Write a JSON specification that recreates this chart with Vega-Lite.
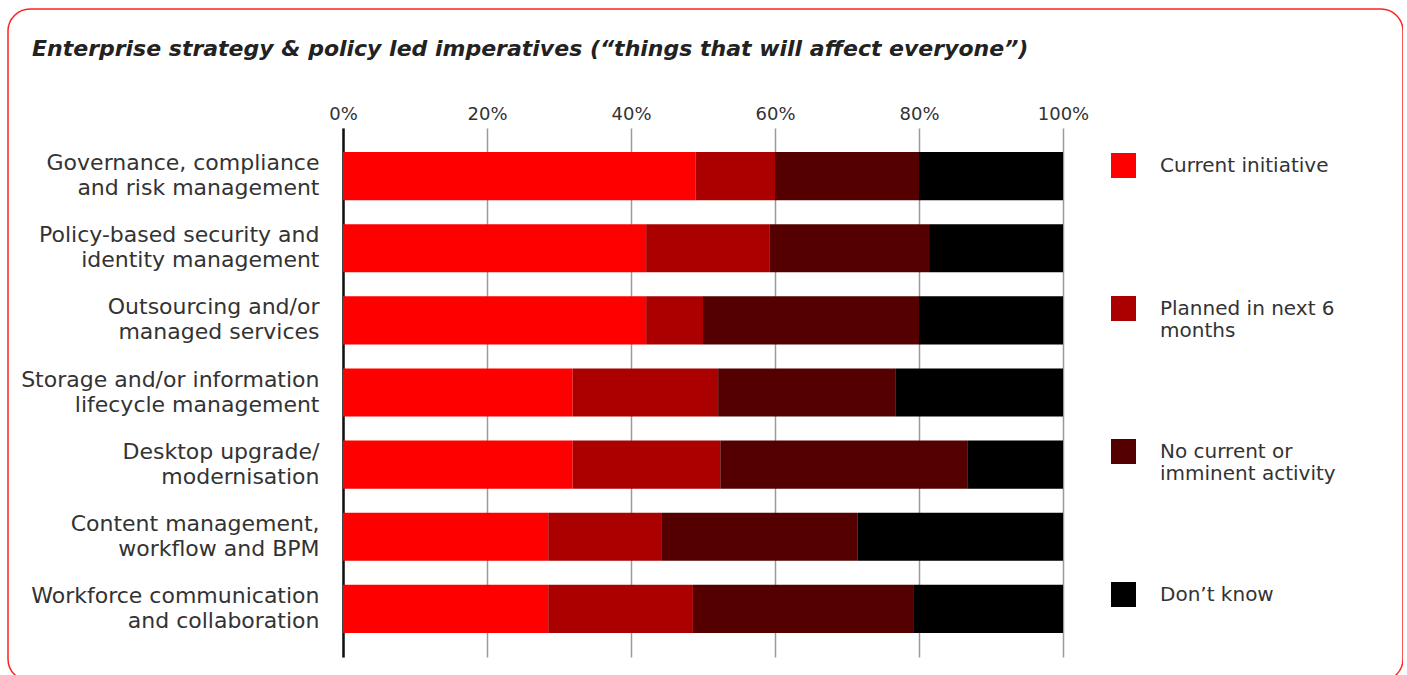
{
  "$schema": "https://vega.github.io/schema/vega-lite/v6.json",
  "width": 1395,
  "height": 672,
  "autosize": "none",
  "padding": {"left": 8, "top": 9, "right": 0, "bottom": 0},
  "background": "white",
  "title": {
    "text": "Enterprise strategy & policy led imperatives (“things that will affect everyone”)",
    "anchor": "start",
    "frame": "group",
    "orient": "top",
    "offset": -52,
    "dx": 24,
    "font": "DejaVu Sans",
    "fontSize": 22,
    "fontWeight": "bold",
    "fontStyle": "italic",
    "color": "#222222"
  },
  "config": {
    "view": {"stroke": "#ff2020", "strokeWidth": 1.5, "cornerRadius": 22, "fill": "white"}
  },
  "data": {
    "values": [
      {"item": "Governance, compliance\nand risk management", "status": "Current initiative", "seq": 1, "pct": 49},
      {"item": "Governance, compliance\nand risk management", "status": "Planned in next 6 months", "seq": 2, "pct": 11},
      {"item": "Governance, compliance\nand risk management", "status": "No current or imminent activity", "seq": 3, "pct": 20},
      {"item": "Governance, compliance\nand risk management", "status": "Don't know", "seq": 4, "pct": 20},
      {"item": "Policy-based security and\nidentity management", "status": "Current initiative", "seq": 1, "pct": 42.1},
      {"item": "Policy-based security and\nidentity management", "status": "Planned in next 6 months", "seq": 2, "pct": 17.1},
      {"item": "Policy-based security and\nidentity management", "status": "No current or imminent activity", "seq": 3, "pct": 22.2},
      {"item": "Policy-based security and\nidentity management", "status": "Don't know", "seq": 4, "pct": 18.6},
      {"item": "Outsourcing and/or\nmanaged services", "status": "Current initiative", "seq": 1, "pct": 42.1},
      {"item": "Outsourcing and/or\nmanaged services", "status": "Planned in next 6 months", "seq": 2, "pct": 7.9},
      {"item": "Outsourcing and/or\nmanaged services", "status": "No current or imminent activity", "seq": 3, "pct": 30},
      {"item": "Outsourcing and/or\nmanaged services", "status": "Don't know", "seq": 4, "pct": 20},
      {"item": "Storage and/or information\nlifecycle management", "status": "Current initiative", "seq": 1, "pct": 31.9},
      {"item": "Storage and/or information\nlifecycle management", "status": "Planned in next 6 months", "seq": 2, "pct": 20.2},
      {"item": "Storage and/or information\nlifecycle management", "status": "No current or imminent activity", "seq": 3, "pct": 24.6},
      {"item": "Storage and/or information\nlifecycle management", "status": "Don't know", "seq": 4, "pct": 23.3},
      {"item": "Desktop upgrade/\nmodernisation", "status": "Current initiative", "seq": 1, "pct": 31.9},
      {"item": "Desktop upgrade/\nmodernisation", "status": "Planned in next 6 months", "seq": 2, "pct": 20.5},
      {"item": "Desktop upgrade/\nmodernisation", "status": "No current or imminent activity", "seq": 3, "pct": 34.3},
      {"item": "Desktop upgrade/\nmodernisation", "status": "Don't know", "seq": 4, "pct": 13.3},
      {"item": "Content management,\nworkflow and BPM", "status": "Current initiative", "seq": 1, "pct": 28.5},
      {"item": "Content management,\nworkflow and BPM", "status": "Planned in next 6 months", "seq": 2, "pct": 15.8},
      {"item": "Content management,\nworkflow and BPM", "status": "No current or imminent activity", "seq": 3, "pct": 27.2},
      {"item": "Content management,\nworkflow and BPM", "status": "Don't know", "seq": 4, "pct": 28.5},
      {"item": "Workforce communication\nand collaboration", "status": "Current initiative", "seq": 1, "pct": 28.5},
      {"item": "Workforce communication\nand collaboration", "status": "Planned in next 6 months", "seq": 2, "pct": 20.1},
      {"item": "Workforce communication\nand collaboration", "status": "No current or imminent activity", "seq": 3, "pct": 30.7},
      {"item": "Workforce communication\nand collaboration", "status": "Don't know", "seq": 4, "pct": 20.7}
    ]
  },
  "mark": {"type": "bar"},
  "encoding": {
    "y": {
      "field": "item",
      "type": "nominal",
      "sort": null,
      "scale": {"range": [119, 648], "paddingInner": 0.3333, "paddingOuter": 0.3333},
      "axis": {
        "title": null,
        "orient": "left",
        "offset": -335,
        "domain": true,
        "domainColor": "#111111",
        "domainWidth": 2.5,
        "ticks": false,
        "grid": false,
        "labelPadding": 24,
        "labelAlign": "right",
        "labelBaseline": "middle",
        "labelOffset": -13,
        "labelExpr": "split(datum.value, '\\n')",
        "labelLineHeight": 25,
        "labelFont": "DejaVu Sans",
        "labelFontSize": 22,
        "labelColor": "#333333",
        "labelLimit": 0
      }
    },
    "x": {
      "field": "pct",
      "type": "quantitative",
      "stack": "zero",
      "scale": {"domain": [0, 100], "range": [335, 1055], "nice": false},
      "axis": {
        "title": null,
        "orient": "top",
        "offset": -119,
        "values": [0, 20, 40, 60, 80, 100],
        "labelExpr": "datum.value + '%'",
        "labelFlush": false,
        "domain": false,
        "ticks": false,
        "grid": true,
        "gridColor": "#9a9a9a",
        "gridWidth": 1.5,
        "labelPadding": 5,
        "labelFont": "DejaVu Sans",
        "labelFontSize": 18,
        "labelColor": "#333333"
      }
    },
    "order": {"field": "seq", "type": "quantitative"},
    "color": {
      "field": "status",
      "type": "nominal",
      "sort": ["Current initiative", "Planned in next 6 months", "No current or imminent activity", "Don't know"],
      "scale": {
        "domain": ["Current initiative", "Planned in next 6 months", "No current or imminent activity", "Don't know"],
        "range": ["#ff0000", "#aa0000", "#550000", "#000000"]
      },
      "legend": {
        "title": null,
        "orient": "none",
        "legendX": 1103,
        "legendY": 144,
        "padding": 0,
        "gridAlign": "all",
        "symbolType": "square",
        "symbolSize": 625,
        "symbolStrokeWidth": 0,
        "labelOffset": 24,
        "labelFont": "DejaVu Sans",
        "labelFontSize": 20,
        "labelColor": "#333333",
        "labelBaseline": "middle",
        "labelLimit": 0,
        "rowPadding": 98,
        "labelExpr": "datum.label == 'Planned in next 6 months' ? ['Planned in next 6', 'months'] : datum.label == 'No current or imminent activity' ? ['No current or', 'imminent activity'] : datum.label == \"Don't know\" ? ['Don’t know', ''] : [datum.label, '']"
      }
    }
  }
}
